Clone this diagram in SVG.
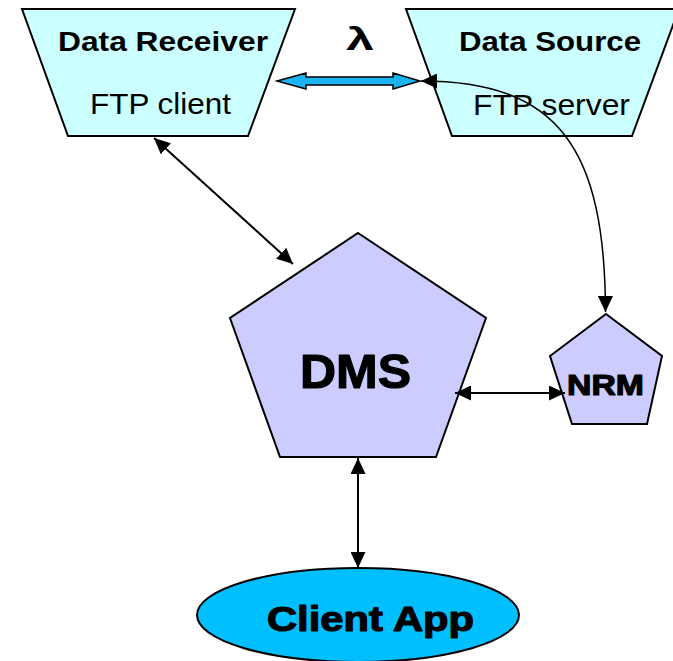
<svg xmlns="http://www.w3.org/2000/svg" width="673" height="661" viewBox="0 0 673 661">
  <style>
    .trap { fill: #CCFFFF; stroke: #000; stroke-width: 2; }
    .pent { fill: #CCCCFF; stroke: #000; stroke-width: 2; }
    .app { fill: #00BFFF; stroke: #000; stroke-width: 2; }
    .lbl { font-family: "Liberation Sans", Arial, sans-serif; fill: #000; }
    .b { font-weight: bold; }
    .heavy { font-weight: bold; stroke: #000; stroke-width: 1.2; stroke-linejoin: round; }
    .link { fill: none; stroke: #000; stroke-width: 2; }
    .thin { fill: none; stroke: #000; stroke-width: 1.5; }
    .fat { fill: #1AB4F0; stroke: #000; stroke-width: 1.5; stroke-linejoin: miter; }
  </style>
  <defs>
    <marker id="head" markerUnits="userSpaceOnUse" markerWidth="16" markerHeight="15" refX="16" refY="7.5" orient="auto-start-reverse">
      <path d="M0,0 L16,7.5 L0,15 z" fill="#000"/>
    </marker>
  </defs>

  <rect width="673" height="661" fill="#fff"/>

  <g id="data-receiver">
    <polygon class="trap" points="22,9 295,9 248,136 68,136"/>
    <text class="lbl b" x="58" y="51" font-size="28" textLength="210" lengthAdjust="spacingAndGlyphs">Data Receiver</text>
    <text class="lbl" x="90" y="114" font-size="29" textLength="141" lengthAdjust="spacingAndGlyphs">FTP client</text>
  </g>

  <g id="data-source">
    <polygon class="trap" points="406,9 679,9 632,136 452,136"/>
    <text class="lbl b" x="459" y="51" font-size="28" textLength="182" lengthAdjust="spacingAndGlyphs">Data Source</text>
    <text class="lbl" x="473" y="115" font-size="29" textLength="157" lengthAdjust="spacingAndGlyphs">FTP server</text>
  </g>

  <g id="lambda">
    <text class="lbl b" x="346" y="50" font-size="32" textLength="28" lengthAdjust="spacingAndGlyphs">λ</text>
  </g>

  <g id="dms">
    <polygon class="pent" points="358,233 486,318 436,457 280,457 230,318"/>
    <text class="lbl heavy" x="300" y="388" font-size="48" textLength="111" lengthAdjust="spacingAndGlyphs">DMS</text>
  </g>

  <g id="nrm">
    <polygon class="pent" points="606,314 662,356 647,424 572,424 550,356"/>
    <text class="lbl heavy" x="567" y="395" font-size="30" textLength="77" lengthAdjust="spacingAndGlyphs">NRM</text>
  </g>

  <g id="client-app">
    <ellipse class="app" cx="358" cy="615" rx="161" ry="47"/>
    <text class="lbl heavy" x="267" y="631" font-size="35" textLength="207" lengthAdjust="spacingAndGlyphs">Client App</text>
  </g>

  <g id="connectors">
    <!-- wide data channel between receiver and source -->
    <polygon class="fat" points="277,81 306,73 306,77 393,77 393,73 420,81 393,89 393,85 306,85 306,89"/>
    <!-- control path from the source to the NRM -->
    <path class="thin" d="M421,81 C560,81 605,150 605.5,312" marker-start="url(#head)" marker-end="url(#head)"/>
    <!-- receiver to DMS -->
    <line class="link" x1="154" y1="138" x2="293" y2="264" marker-start="url(#head)" marker-end="url(#head)"/>
    <!-- DMS to NRM -->
    <line class="link" x1="455" y1="393" x2="565" y2="393" marker-start="url(#head)" marker-end="url(#head)"/>
    <!-- DMS to client application -->
    <line class="link" x1="358" y1="458" x2="358" y2="568" marker-start="url(#head)" marker-end="url(#head)"/>
  </g>
</svg>
